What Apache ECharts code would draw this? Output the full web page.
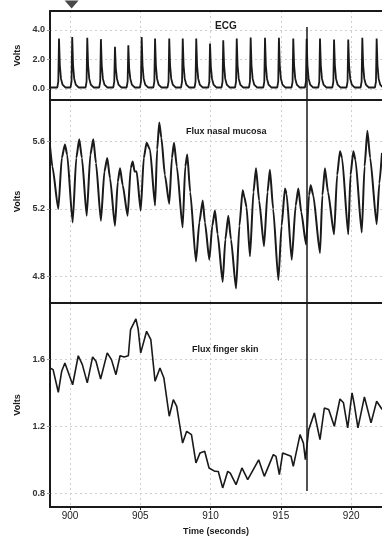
<!DOCTYPE html>
<html>
<head>
<meta charset="utf-8">
<script src="https://cdn.jsdelivr.net/npm/echarts@6/dist/echarts.min.js"></script>
<style>
  html, body { margin: 0; padding: 0; background: #fff; }
  #chart { width: 382px; height: 539px; }
</style>
</head>
<body>
<div id="chart"></div>
<script>
// time window (seconds) and markers
const tMin = 898.58;
const tMax = 922.19;
const cursorTime = 916.83;
const markerPoint = [[900.12, 5.73]];

// ECG pulse trace [time, volts]
const ecgData = [
  [898.58, 0.1],
  [899.10, 0.1], [899.17, 0.5], [899.22, 3.42], [899.28, 1.6], [899.36, 0.7], [899.47, 0.3], [899.67, 0.1],
  [900.04, 0.1], [900.11, 0.5], [900.16, 3.53], [900.22, 1.6], [900.30, 0.7], [900.41, 0.3], [900.61, 0.1],
  [901.11, 0.1], [901.18, 0.5], [901.23, 3.47], [901.29, 1.6], [901.37, 0.7], [901.48, 0.3], [901.68, 0.1],
  [902.08, 0.1], [902.15, 0.5], [902.20, 3.38], [902.26, 1.6], [902.34, 0.7], [902.45, 0.3], [902.65, 0.1],
  [903.08, 0.1], [903.15, 0.5], [903.20, 2.86], [903.26, 1.4], [903.34, 0.7], [903.45, 0.3], [903.65, 0.1],
  [904.03, 0.1], [904.10, 0.5], [904.15, 2.97], [904.21, 1.4], [904.29, 0.7], [904.40, 0.3], [904.60, 0.1],
  [904.98, 0.1], [905.05, 0.5], [905.10, 3.53], [905.16, 1.6], [905.24, 0.7], [905.35, 0.3], [905.55, 0.1],
  [905.93, 0.1], [906.00, 0.5], [906.05, 3.42], [906.11, 1.6], [906.19, 0.7], [906.30, 0.3], [906.50, 0.1],
  [906.94, 0.1], [907.01, 0.5], [907.06, 3.42], [907.12, 1.6], [907.20, 0.7], [907.31, 0.3], [907.51, 0.1],
  [907.90, 0.1], [907.97, 0.5], [908.02, 3.42], [908.08, 1.6], [908.16, 0.7], [908.27, 0.3], [908.47, 0.1],
  [908.86, 0.1], [908.93, 0.5], [908.98, 3.42], [909.04, 1.6], [909.12, 0.7], [909.23, 0.3], [909.43, 0.1],
  [909.84, 0.1], [909.91, 0.5], [909.96, 3.09], [910.02, 1.5], [910.10, 0.7], [910.21, 0.3], [910.41, 0.1],
  [910.78, 0.1], [910.85, 0.5], [910.90, 3.31], [910.96, 1.6], [911.04, 0.7], [911.15, 0.3], [911.35, 0.1],
  [911.74, 0.1], [911.81, 0.5], [911.86, 3.42], [911.92, 1.6], [912.00, 0.7], [912.11, 0.3], [912.31, 0.1],
  [912.73, 0.1], [912.80, 0.5], [912.85, 3.49], [912.91, 1.6], [912.99, 0.7], [913.10, 0.3], [913.30, 0.1],
  [913.75, 0.1], [913.82, 0.5], [913.87, 3.47], [913.93, 1.6], [914.01, 0.7], [914.12, 0.3], [914.32, 0.1],
  [914.74, 0.1], [914.81, 0.5], [914.86, 3.47], [914.92, 1.6], [915.00, 0.7], [915.11, 0.3], [915.31, 0.1],
  [915.76, 0.1], [915.83, 0.5], [915.88, 3.42], [915.94, 1.6], [916.02, 0.7], [916.13, 0.3], [916.33, 0.1],
  [916.71, 0.1], [916.78, 0.5], [916.83, 3.40], [916.89, 1.6], [916.97, 0.7], [917.08, 0.3], [917.28, 0.1],
  [917.66, 0.1], [917.73, 0.5], [917.78, 3.42], [917.84, 1.6], [917.92, 0.7], [918.03, 0.3], [918.23, 0.1],
  [918.66, 0.1], [918.73, 0.5], [918.78, 3.36], [918.84, 1.6], [918.92, 0.7], [919.03, 0.3], [919.23, 0.1],
  [919.67, 0.1], [919.74, 0.5], [919.79, 3.36], [919.85, 1.6], [919.93, 0.7], [920.04, 0.3], [920.24, 0.1],
  [920.67, 0.1], [920.74, 0.5], [920.79, 3.47], [920.85, 1.6], [920.93, 0.7], [921.04, 0.3], [921.24, 0.1],
  [921.69, 0.1], [921.76, 0.5], [921.81, 3.42], [921.87, 1.6], [921.95, 0.7], [922.06, 0.3], [922.26, 0.1]
];

// flux nasal mucosa [time, volts]
const nasalData = [
  [898.58, 5.57], [898.75, 5.45], [899.17, 5.20], [899.42, 5.50], [899.64, 5.58], [899.80, 5.52],
  [900.19, 5.12], [900.45, 5.50], [900.66, 5.61], [900.85, 5.50], [901.19, 5.16], [901.45, 5.52],
  [901.66, 5.61], [901.85, 5.47], [902.20, 5.13], [902.45, 5.42], [902.65, 5.50], [902.85, 5.38],
  [903.20, 5.10], [903.40, 5.36], [903.56, 5.44], [903.75, 5.34], [904.10, 5.16], [904.32, 5.44],
  [904.46, 5.48], [904.60, 5.42], [904.74, 5.42], [905.03, 5.19], [905.25, 5.50], [905.45, 5.59],
  [905.69, 5.55], [906.05, 5.22], [906.20, 5.55], [906.35, 5.71], [906.50, 5.62], [906.75, 5.40],
  [907.06, 5.23], [907.25, 5.50], [907.40, 5.59], [907.60, 5.45], [908.01, 5.09], [908.20, 5.45],
  [908.34, 5.52], [908.55, 5.30], [908.96, 4.89], [909.20, 5.12], [909.44, 5.25], [909.60, 5.12],
  [909.91, 4.90], [910.12, 5.10], [910.31, 5.19], [910.50, 5.05], [910.86, 4.77], [911.05, 5.02],
  [911.26, 5.16], [911.45, 5.02], [911.81, 4.73], [912.05, 5.10], [912.28, 5.31], [912.40, 5.27],
  [912.56, 5.21], [912.80, 4.92], [913.05, 5.30], [913.23, 5.44], [913.45, 5.25], [913.80, 4.98],
  [914.05, 5.30], [914.22, 5.43], [914.45, 5.20], [914.82, 4.78], [915.05, 5.10], [915.29, 5.32],
  [915.40, 5.29], [915.77, 4.90], [916.05, 5.22], [916.24, 5.32], [916.45, 5.18], [916.79, 4.99],
  [917.00, 5.28], [917.12, 5.34], [917.30, 5.28], [917.78, 4.94], [917.95, 5.28], [918.13, 5.44],
  [918.35, 5.30], [918.78, 5.05], [919.00, 5.40], [919.20, 5.54], [919.35, 5.50], [919.79, 5.05],
  [919.95, 5.40], [920.15, 5.54], [920.30, 5.49], [920.75, 5.06], [920.95, 5.45], [921.15, 5.66],
  [921.35, 5.50], [921.81, 5.11], [922.00, 5.35], [922.19, 5.53]
];

// flux finger skin [time, volts]
const fingerData = [
  [898.58, 1.548], [898.80, 1.538], [899.17, 1.403], [899.41, 1.528], [899.64, 1.578], [899.85, 1.528],
  [900.19, 1.448], [900.59, 1.621], [900.88, 1.568], [901.23, 1.459], [901.61, 1.614], [901.85, 1.588],
  [902.18, 1.482], [902.65, 1.638], [902.95, 1.598], [903.27, 1.508], [903.56, 1.621], [903.85, 1.614],
  [904.15, 1.621], [904.31, 1.777], [904.69, 1.841], [904.85, 1.78], [905.03, 1.638], [905.45, 1.767],
  [905.75, 1.717], [906.05, 1.469], [906.40, 1.548], [906.68, 1.488], [907.06, 1.26], [907.35, 1.359],
  [907.59, 1.319], [908.01, 1.10], [908.30, 1.170], [908.64, 1.15], [908.96, 0.981], [909.25, 1.041],
  [909.58, 1.051], [909.89, 0.951], [910.31, 0.931], [910.55, 0.93], [910.86, 0.832], [911.22, 0.931],
  [911.40, 0.92], [911.81, 0.851], [912.23, 0.951], [912.64, 0.881], [913.42, 1.0], [913.82, 0.901],
  [914.46, 1.031], [914.65, 1.02], [914.89, 0.911], [915.13, 1.041], [915.72, 1.021], [915.88, 0.961],
  [916.36, 1.15], [916.60, 1.10], [916.74, 1.0], [916.98, 1.18], [917.38, 1.279], [917.78, 1.12],
  [918.09, 1.309], [918.40, 1.30], [918.80, 1.20], [919.20, 1.363], [919.45, 1.34], [919.75, 1.19],
  [920.06, 1.399], [920.20, 1.339], [920.48, 1.19], [920.94, 1.375], [921.41, 1.22], [921.81, 1.349],
  [922.20, 1.30]
];

// y ranges and tick steps per panel: [min, max, step]
const ecgRange = [-0.75, 5.29, 2];
const nasalRange = [4.645, 5.842, 0.4];
const fingerRange = [0.718, 1.936, 0.4];

const fontFamily = "'Liberation Sans', Arial, sans-serif";
const ink = "#1a1a1a";
const gridLine = { show: true, lineStyle: { color: "#cfcfcf", type: [2, 3], width: 1 } };
const frame = { show: true, onZero: false, lineStyle: { color: ink, width: 2 } };

function makeX(idx, last) {
    return {
        type: "value",
        gridIndex: idx,
        min: tMin,
        max: tMax,
        minInterval: 5,
        maxInterval: 5,
        axisLine: frame,
        axisTick: { show: last, length: 3, lineStyle: { color: ink } },
        axisLabel: {
            show: last,
            showMinLabel: false,
            showMaxLabel: false,
            margin: 4,
            fontSize: 10,
            color: ink,
            fontFamily: fontFamily,
        },
        splitLine: gridLine,
        name: last ? "Time (seconds)" : "",
        nameLocation: "middle",
        nameGap: 20,
        nameTextStyle: { fontSize: 9, fontWeight: "bold", color: ink, fontFamily: fontFamily },
    };
}

function makeY(idx, range) {
    return {
        type: "value",
        gridIndex: idx,
        min: range[0],
        max: range[1],
        minInterval: range[2],
        maxInterval: range[2],
        axisLine: frame,
        axisTick: { show: true, length: 3, lineStyle: { color: "#999" } },
        axisLabel: {
            showMinLabel: false,
            showMaxLabel: false,
            margin: 5,
            fontSize: 9,
            fontWeight: "bold",
            color: "#333",
            fontFamily: fontFamily,
            formatter: function (v) {
                return v.toFixed(1);
            },
        },
        splitLine: gridLine,
        name: "Volts",
        nameLocation: "middle",
        nameGap: 23,
        nameTextStyle: { fontSize: 9, fontWeight: "bold", color: ink, fontFamily: fontFamily },
    };
}

const cursorStyle = { color: ink, width: 1.5, type: "solid" };

const chart = echarts.init(document.getElementById("chart"), null, { renderer: "canvas" });
chart.setOption({
    animation: false,
    backgroundColor: "#fff",
    title: [
        { text: "ECG", left: 210, top: 16, textStyle: { fontSize: 10, fontWeight: "bold", color: ink, fontFamily: fontFamily } },
        { text: "Flux nasal mucosa", left: 181, top: 122, textStyle: { fontSize: 9, fontWeight: "bold", color: ink, fontFamily: fontFamily } },
        { text: "Flux finger skin", left: 187, top: 340, textStyle: { fontSize: 9, fontWeight: "bold", color: ink, fontFamily: fontFamily } },
    ],
    grid: [
        { left: 50, top: 11, width: 332, height: 89 },
        { left: 50, top: 100, width: 332, height: 203 },
        { left: 50, top: 303, width: 332, height: 204 },
    ],
    xAxis: [
        makeX(0, false),
        makeX(1, false),
        makeX(2, true),
        {
            // top frame of the ECG panel
            type: "value",
            gridIndex: 0,
            position: "top",
            min: tMin,
            max: tMax,
            axisLine: frame,
            axisTick: { show: false },
            axisLabel: { show: false },
            splitLine: { show: false },
        },
    ],
    yAxis: [makeY(0, ecgRange), makeY(1, nasalRange), makeY(2, fingerRange)],
    series: [
        {
            type: "line",
            xAxisIndex: 0,
            yAxisIndex: 0,
            data: ecgData,
            showSymbol: false,
            lineStyle: { color: ink, width: 1.8 },
            markLine: {
                silent: true,
                symbol: "none",
                label: { show: false },
                lineStyle: cursorStyle,
                data: [[{ coord: [cursorTime, 4.2] }, { coord: [cursorTime, ecgRange[0]] }]],
            },
        },
        {
            type: "scatter",
            xAxisIndex: 0,
            yAxisIndex: 0,
            data: markerPoint,
            clip: false,
            silent: true,
            symbol: "triangle",
            symbolRotate: 180,
            symbolSize: [14, 8],
            itemStyle: { color: ink },
        },
        {
            type: "line",
            xAxisIndex: 1,
            yAxisIndex: 1,
            data: nasalData,
            showSymbol: false,
            smooth: 0.2,
            smoothMonotone: "x",
            lineStyle: { color: ink, width: 2 },
            markLine: {
                silent: true,
                symbol: "none",
                label: { show: false },
                lineStyle: cursorStyle,
                data: [{ xAxis: cursorTime }],
            },
        },
        {
            type: "line",
            xAxisIndex: 2,
            yAxisIndex: 2,
            data: fingerData,
            showSymbol: false,
            lineStyle: { color: ink, width: 1.6 },
            markLine: {
                silent: true,
                symbol: "none",
                label: { show: false },
                lineStyle: cursorStyle,
                data: [[{ coord: [cursorTime, fingerRange[1]] }, { coord: [cursorTime, 0.814] }]],
            },
        },
    ],
});
</script>
</body>
</html>
